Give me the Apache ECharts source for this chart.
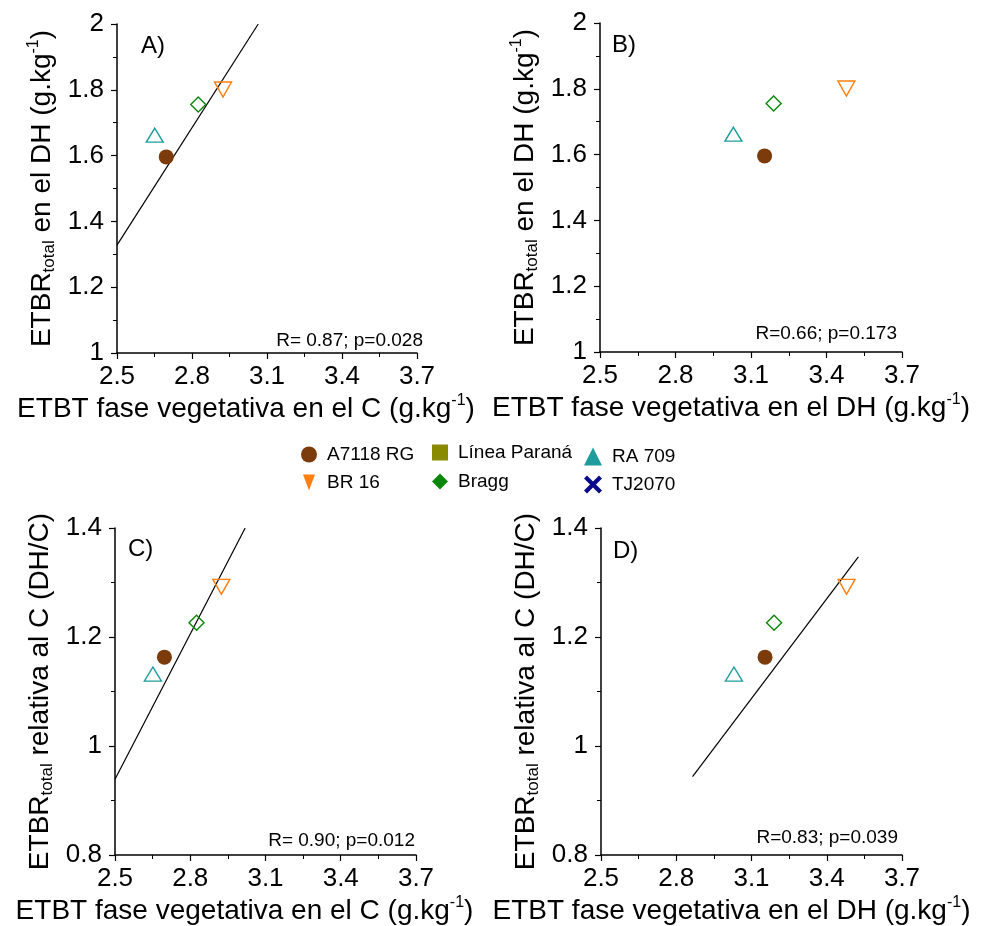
<!DOCTYPE html>
<html><head><meta charset="utf-8">
<script src="https://cdn.jsdelivr.net/npm/echarts@6/dist/echarts.min.js"></script>
<style>html,body{margin:0;padding:0;background:#fff}#c{width:983px;height:926px}</style>
</head><body><div id="c"></div>
<script>
// ---------- data ----------
const cultivars = ['A7118 RG', 'BR 16', 'Línea Paraná', 'Bragg', 'RA 709', 'TJ2070'];
const etbtVegC  = [2.697, 2.924, null, 2.825, 2.651, null];   // x for A and C
const etbtVegDH = [3.154, 3.479, null, 3.190, 3.030, null];   // x for B and D
const etbrDH    = [1.596, 1.801, null, 1.755, 1.662, null];   // y for A and B
const etbrRel   = [1.163, 1.292, null, 1.226, 1.132, null];   // y for C and D
const fitA = [[2.5, 1.328], [3.065, 2.0]];
const fitC = [[2.5, 0.939], [3.019, 1.4]];
const fitD = [[2.865, 0.944], [3.526, 1.347]];
const statsText = ['R= 0.87; p=0.028', 'R=0.66; p=0.173', 'R= 0.90; p=0.012', 'R=0.83; p=0.039'];
const panelTags = ['A)', 'B)', 'C)', 'D)'];
const xTicks = [2.5, 2.8, 3.1, 3.4, 3.7];
const xMinorTicks = [2.65, 2.95, 3.25, 3.55];
const xNameC  = 'ETBT fase vegetativa en el C (g.kg';
const xNameDH = 'ETBT fase vegetativa en el DH (g.kg';
const yNameDH = ' en el DH (g.kg';
const yNameRel = ' relativa al C (DH/C)';

// ---------- styles ----------
const FONT = 'Liberation Sans, Arial, sans-serif';
const colors = {
  'A7118 RG': '#7B3B0B', 'BR 16': '#FF7F10', 'Línea Paraná': '#8A8A00',
  'Bragg': '#0A860A', 'RA 709': '#1E9C9C', 'TJ2070': '#0A0A8C'
};
const DOWN = 'path://M0,0L10,0L5,10Z';
const DOWN_LEG = 'path://M0,0L12,0L6,16Z';
const XMARK = 'path://M0,3L3,0L9,6L15,0L18,3L12,9L18,15L15,18L9,12L3,18L0,15L6,9Z';
const plotSymbol = {
  'A7118 RG': {symbol: 'circle', size: 15, filled: true},
  'BR 16': {symbol: DOWN, size: [17, 15], filled: false},
  'Línea Paraná': {symbol: 'rect', size: 15, filled: true},
  'Bragg': {symbol: 'diamond', size: 15, filled: false},
  'RA 709': {symbol: 'triangle', size: [17, 14], filled: false},
  'TJ2070': {symbol: XMARK, size: 18, filled: true}
};
const legendIcon = {
  'A7118 RG': 'circle', 'BR 16': DOWN_LEG, 'Línea Paraná': 'rect',
  'Bragg': 'diamond', 'RA 709': 'triangle', 'TJ2070': XMARK
};

const grids = [
  {left: 117, top: 24, width: 300, height: 329},
  {left: 600, top: 23, width: 302, height: 329},
  {left: 115, top: 528, width: 301, height: 328},
  {left: 601, top: 528, width: 301, height: 328}
];
const panels = [
  {xs: etbtVegC, ys: etbrDH, fit: fitA, xName: xNameC, yName: yNameDH, ySup: true, ymin: 1, ymax: 2, xPad: 42},
  {xs: etbtVegDH, ys: etbrDH, fit: null, xName: xNameDH, yName: yNameDH, ySup: true, ymin: 1, ymax: 2, xPad: 40},
  {xs: etbtVegC, ys: etbrRel, fit: fitC, xName: xNameC, yName: yNameRel, ySup: false, ymin: 0.8, ymax: 1.4, xPad: 42},
  {xs: etbtVegDH, ys: etbrRel, fit: fitD, xName: xNameDH, yName: yNameRel, ySup: false, ymin: 0.8, ymax: 1.4, xPad: 40}
];
const tagPos = [[141, 46], [612, 45], [128, 549], [613, 551]];
const statPos = [[423, 341], [897, 334], [415, 841], [898, 838]];

const nameRich = {
  m: {fontSize: 28, fontFamily: FONT, color: '#000', lineHeight: 32},
  sup: {fontSize: 16, fontFamily: FONT, color: '#000', lineHeight: 16, verticalAlign: 'top'},
  sub: {fontSize: 17, fontFamily: FONT, color: '#000', lineHeight: 16, verticalAlign: 'bottom'}
};
const axisLineStyle = {color: '#000', width: 1.5};

const xAxes = [], yAxes = [], series = [], graphics = [];
panels.forEach((p, i) => {
  xAxes.push({
    type: 'value', gridIndex: i, min: 2.5, max: 3.7, position: 'bottom',
    axisLine: {show: true, onZero: false, lineStyle: axisLineStyle},
    axisTick: {show: true, customValues: xTicks, length: 6, lineStyle: {color: '#000', width: 1.2}},
    axisLabel: {customValues: xTicks, fontSize: 26, fontFamily: FONT, color: '#000', margin: 11},
    splitLine: {show: false},
    name: '{m|' + p.xName + '}{sup|-1}{m|)}',
    nameLocation: 'middle', nameGap: 40,
    nameTextStyle: {padding: [0, p.xPad, 0, 0], rich: nameRich}
  });
  xAxes.push({
    type: 'value', gridIndex: i, min: 2.5, max: 3.7, position: 'bottom',
    axisLine: {show: false, onZero: false},
    axisTick: {show: true, customValues: xMinorTicks, length: 4, lineStyle: {color: '#000', width: 1}},
    axisLabel: {show: false}, splitLine: {show: false}
  });
  yAxes.push({
    type: 'value', gridIndex: i, min: p.ymin, max: p.ymax, interval: 0.2,
    axisLine: {show: true, onZero: false, lineStyle: axisLineStyle},
    axisTick: {show: true, length: 6, lineStyle: {color: '#000', width: 1.2}},
    minorTick: {show: true, splitNumber: 2, length: 4, lineStyle: {color: '#000', width: 1}},
    axisLabel: {fontSize: 26, fontFamily: FONT, color: '#000', margin: 13},
    splitLine: {show: false}, minorSplitLine: {show: false},
    name: '{m|ETBR}{sub|total}{m|' + p.yName + '}' + (p.ySup ? '{sup|-1}{m|)}' : ''),
    nameLocation: 'middle', nameRotate: 90, nameGap: 59,
    nameTextStyle: {rich: nameRich}
  });
  if (p.fit) {
    series.push({
      type: 'line', xAxisIndex: 2 * i, yAxisIndex: i, data: p.fit,
      showSymbol: false, silent: true, z: 1,
      lineStyle: {color: '#000', width: 1.2}
    });
  }
  cultivars.forEach((c, k) => {
    const s = plotSymbol[c];
    const data = (p.xs[k] != null && p.ys[k] != null) ? [[p.xs[k], p.ys[k]]] : [];
    series.push({
      type: 'scatter', name: c, xAxisIndex: 2 * i, yAxisIndex: i, data: data,
      symbol: s.symbol, symbolSize: s.size, z: 3,
      itemStyle: s.filled ? {color: colors[c], opacity: 1}
                          : {color: 'rgba(255,255,255,0)', borderColor: colors[c], borderWidth: 1.4, opacity: 1},
      emphasis: {disabled: true}
    });
  });
  graphics.push({
    type: 'text', x: tagPos[i][0], y: tagPos[i][1],
    style: {text: panelTags[i], font: '24px ' + FONT, fill: '#000',
            align: 'left', verticalAlign: 'middle', textAlign: 'left', textVerticalAlign: 'middle'}
  });
  graphics.push({
    type: 'text', x: statPos[i][0], y: statPos[i][1],
    style: {text: statsText[i], font: '19px ' + FONT, fill: '#000',
            align: 'right', verticalAlign: 'middle', textAlign: 'right', textVerticalAlign: 'middle'}
  });
});

function legendCol(names, left, top, gap, size) {
  return {
    orient: 'vertical', left: left, top: top, itemWidth: size, itemHeight: size, itemGap: gap,
    selectedMode: false, symbolRotate: 0,
    textStyle: {fontSize: 19, fontFamily: FONT, color: '#000', lineHeight: 16, padding: [0, 0, 0, 5]},
    data: names.map(n => ({name: n, icon: legendIcon[n], itemStyle: {color: colors[n], borderWidth: 0, opacity: 1}}))
  };
}

const chart = echarts.init(document.getElementById('c'), null, {renderer: 'canvas'});
chart.setOption({
  animation: false,
  backgroundColor: '#fff',
  grid: grids,
  xAxis: xAxes,
  yAxis: yAxes,
  legend: [
    legendCol(['A7118 RG', 'BR 16'], 296, 440, 9, 16),
    legendCol(['Línea Paraná', 'Bragg'], 427, 438, 10, 16),
    legendCol(['RA 709', 'TJ2070'], 579, 442, 9, 18)
  ],
  series: series,
  graphic: graphics
});
</script>
</body></html>
